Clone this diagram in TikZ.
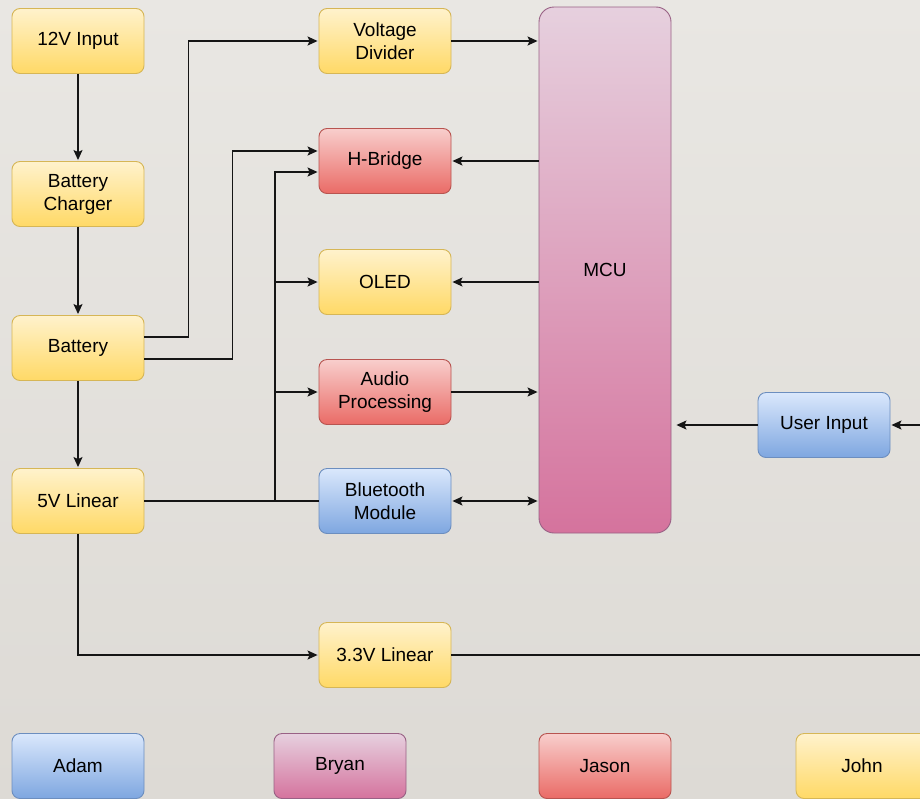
\documentclass[tikz,border=0pt]{standalone}
\usepackage{fontspec}
\setmainfont{Liberation Sans}
\usetikzlibrary{arrows.meta,calc}
\definecolor{bgT}{HTML}{E9E7E3}
\definecolor{bgB}{HTML}{DDDAD5}
\definecolor{ylT}{HTML}{FFF2CC}
\definecolor{ylF}{HTML}{FFD966}
\definecolor{ylD}{HTML}{D6B656}
\definecolor{rdT}{HTML}{F8CECC}
\definecolor{rdF}{HTML}{EA6B66}
\definecolor{rdD}{HTML}{B85450}
\definecolor{blT}{HTML}{DAE8FC}
\definecolor{blF}{HTML}{7EA6E0}
\definecolor{blD}{HTML}{6C8EBF}
\definecolor{pkT}{HTML}{E6D0DE}
\definecolor{pkF}{HTML}{D5739D}
\definecolor{pkD}{HTML}{996185}
\definecolor{lineC}{HTML}{151515}
\begin{document}
\begin{tikzpicture}[x=1pt,y=-1pt,
  >={Stealth[length=10pt,width=9pt,inset=2pt]},
  box/.style={line width=0.9pt, rounded corners=8pt, minimum width=132pt,
    minimum height=65pt, inner sep=0pt, align=center,
    font=\fontsize{19}{23}\selectfont, text=black},
  ybox/.style={box, draw=ylD, top color=ylT, bottom color=ylF},
  rbox/.style={box, draw=rdD, top color=rdT, bottom color=rdF},
  bbox/.style={box, draw=blD, top color=blT, bottom color=blF},
  pbox/.style={box, draw=pkD, top color=pkT, bottom color=pkF},
  ln/.style={line width=1.2pt, draw=lineC},
  arr/.style={ln, ->, shorten >=1pt},
  biarr/.style={ln, <->, shorten >=1pt, shorten <=1pt}]
\shade[top color=bgT, bottom color=bgB] (0,0) rectangle (920,798);
\useasboundingbox (0,0) rectangle (920,798);
\clip (0,0) rectangle (920,798);
% nodes
\node[ybox] (in12) at (78,41) {12V Input};
\node[ybox] (chg) at (78,194) {Battery\\Charger};
\node[ybox] (bat) at (78,348) {Battery};
\node[ybox] (v5) at (78,501) {5V Linear};
\node[ybox] (vd) at (385,41) {Voltage\\Divider};
\node[rbox] (hb) at (385,161) {H-Bridge};
\node[ybox] (oled) at (385,282) {OLED};
\node[rbox] (aud) at (385,392) {Audio\\Processing};
\node[bbox] (bt) at (385,501) {Bluetooth\\Module};
\node[ybox] (v33) at (385,655) {3.3V Linear};
\node[pbox, minimum height=526pt, rounded corners=15pt] (mcu) at (605,270) {MCU};
\node[bbox] (ui) at (824,425) {User Input};
\node[bbox] (adam) at (78,766) {Adam};
\node[pbox] (bryan) at (340,766) {Bryan};
\node[rbox] (jason) at (605,766) {Jason};
\node[ybox] (john) at (862,766) {John};
% junctions and free ends
\coordinate (jx) at (275,501);
\coordinate (rin) at (920,425);
\coordinate (rout) at (920,655);
% connectors
\draw[arr] (in12) -- (chg);
\draw[arr] (chg) -- (bat);
\draw[arr] (bat) -- (v5);
\draw[arr] ($(bat.east)+(0,-11)$) -- ++(44,0) |- (vd.west);
\draw[arr] ($(bat.east)+(0,11)$) -- ++(88,0) |- ($(hb.west)+(0,-10)$);
\draw[ln] (v5.east) -- (bt.west);
\draw[arr] (jx) |- ($(hb.west)+(0,11)$);
\draw[arr] (jx |- oled.west) -- (oled.west);
\draw[arr] (jx |- aud.west) -- (aud.west);
\draw[arr] (vd.east) -- (vd.east -| mcu.west);
\draw[arr] (mcu.west |- hb.east) -- (hb.east);
\draw[arr] (mcu.west |- oled.east) -- (oled.east);
\draw[arr] (aud.east) -- (aud.east -| mcu.west);
\draw[biarr] (bt.east) -- (bt.east -| mcu.west);
\draw[arr, shorten >=5pt] (ui.west) -- (ui.west -| mcu.east);
\draw[arr] (rin) -- (ui.east);
\draw[ln] (v33.east) -- (rout);
\draw[arr] (v5.south) |- (v33.west);
\end{tikzpicture}
\end{document}
